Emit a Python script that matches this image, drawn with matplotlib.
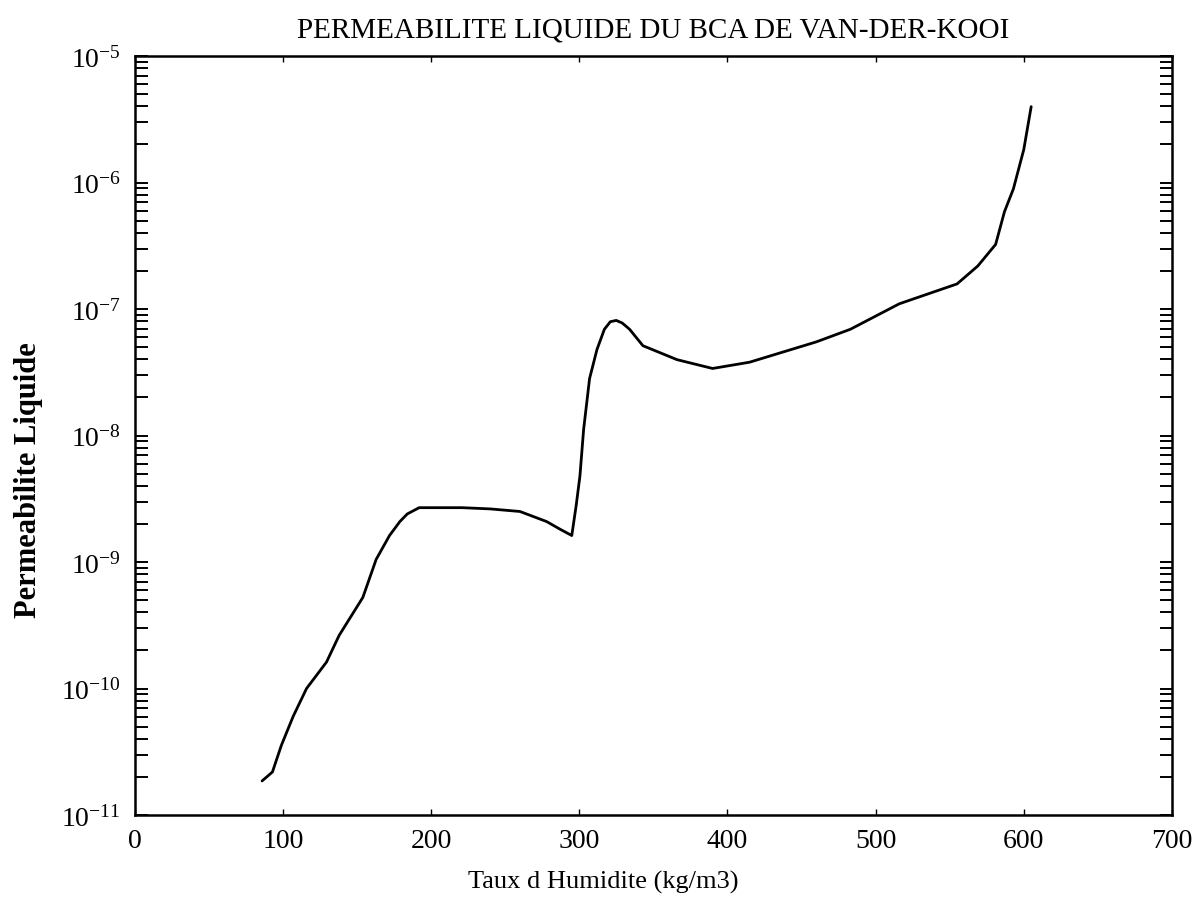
import matplotlib
matplotlib.use("Agg")
from matplotlib import pyplot as plt
from matplotlib.ticker import LogLocator, FixedLocator, FuncFormatter, NullFormatter
import numpy as np

# taux d'humidite (kg/m3) et permeabilite liquide
humidite = [86, 93, 99, 107, 116, 129.5, 138, 154, 163, 172, 179, 184, 192,
            212, 221, 240, 260, 278, 287, 295, 298, 300.5, 303, 307, 312, 317,
            321, 325, 329, 334, 343, 366, 390, 415, 460, 483, 516, 528, 555,
            569, 581, 587, 593, 600, 605]
permeabilite = [1.86e-11, 2.19e-11, 3.55e-11, 6.03e-11, 1.0e-10, 1.62e-10,
                2.63e-10, 5.25e-10, 1.05e-9, 1.62e-9, 2.09e-9, 2.40e-9,
                2.69e-9, 2.69e-9, 2.69e-9, 2.63e-9, 2.51e-9, 2.09e-9, 1.82e-9,
                1.62e-9, 2.82e-9, 4.79e-9, 1.12e-8, 2.82e-8, 4.79e-8, 6.92e-8,
                7.94e-8, 8.13e-8, 7.76e-8, 6.92e-8, 5.13e-8, 3.98e-8, 3.39e-8,
                3.80e-8, 5.50e-8, 6.92e-8, 1.10e-7, 1.23e-7, 1.58e-7, 2.19e-7,
                3.24e-7, 5.89e-7, 8.91e-7, 1.82e-6, 3.98e-6]

x_ticks = [0, 100, 200, 300, 400, 500, 600, 700]
y_exposants = [-11, -10, -9, -8, -7, -6, -5]

plt.rcParams['font.family'] = ['Liberation Serif', 'DejaVu Serif']
plt.rcParams['mathtext.fontset'] = 'custom'
plt.rcParams['mathtext.rm'] = 'Liberation Serif'

fig = plt.figure(figsize=(12.02, 9.2), dpi=100)
ax = fig.add_axes([0.112, 0.113, 0.863, 0.825])

ax.plot(humidite, permeabilite, color='black', lw=2.0,
        solid_joinstyle='round', solid_capstyle='round')

ax.set_yscale('log')
ax.set_xlim(0, 700)
ax.set_ylim(10.0 ** y_exposants[0], 10.0 ** y_exposants[-1])

ax.xaxis.set_major_locator(FixedLocator(x_ticks))
ax.yaxis.set_major_locator(FixedLocator([10.0 ** e for e in y_exposants]))
ax.yaxis.set_minor_locator(LogLocator(base=10, subs=np.arange(2, 10)))
ax.yaxis.set_minor_formatter(NullFormatter())
ax.yaxis.set_major_formatter(FuncFormatter(
    lambda v, pos: r'$\mathregular{10^{%d}}$' % round(np.log10(v))))

ax.tick_params(axis='y', which='both', direction='in', left=True, right=True,
               length=9, width=1.4, labelsize=20, pad=10)
ax.tick_params(axis='x', which='major', direction='in', top=True, bottom=True,
               length=4, width=1.0, labelsize=20, pad=9)
for s in ax.spines.values():
    s.set_linewidth(1.8)

ax.set_title("PERMEABILITE LIQUIDE DU BCA DE VAN-DER-KOOI", fontsize=21, pad=14)
fig.text(0.024, 0.478, "Permeabilite Liquide", fontsize=22, fontweight='bold',
         rotation=90, ha='center', va='center')
fig.text(0.502, 0.034, "Taux d Humidite (kg/m3)", fontsize=19, ha='center')

fig.savefig("out.png", dpi=100)
